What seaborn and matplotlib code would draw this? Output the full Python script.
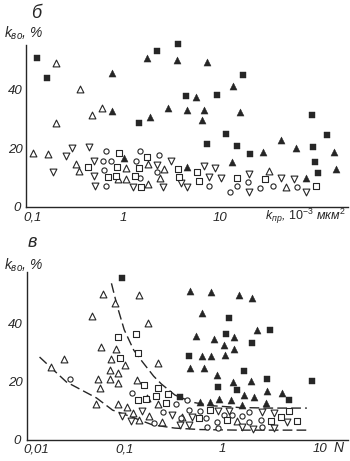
import matplotlib
matplotlib.use('Agg')
import matplotlib.pyplot as plt
import matplotlib.transforms as mtransforms
import seaborn as sns

# ---------------- data: panel б (top) ----------------
top_sqf_x = [0.13, 0.164, 2.24, 3.69, 17.3, 4.47, 9.3, 7.3, 11.5, 15, 20.4, 89, 127, 95, 102, 1.46, 91]
top_sqf_y = [50.9, 44, 53.2, 55.6, 45, 37.9, 38.2, 21.5, 24.9, 20.8, 18, 31.4, 24.6, 15.4, 11.6, 28.7, 20.5]

top_trf_x = [0.77, 1.77, 3.6, 7.3, 13.6, 5.66, 0.77, 1.9, 2.9, 4.57, 6.8, 6.5, 16, 27.7, 42.5, 61, 150, 157, 13.3, 4.57, 77, 1.02]
top_trf_y = [45.7, 50.8, 50.2, 49.5, 41.3, 37.5, 32.8, 30.7, 33.8, 33, 33, 29.7, 32.4, 18.8, 22.9, 20.1, 18.8, 13, 15.4, 13.7, 9.9, 16.7]

top_tro_x = [0.204, 0.36, 0.61, 0.48, 0.204, 0.118, 0.169, 0.328, 0.35, 1.07, 0.89, 1.07, 1.81, 2.64, 2.4, 1.81, 32, 48]
top_tro_y = [49.1, 40.3, 33.8, 31.4, 28.7, 18.4, 18.1, 14.7, 12.3, 13.3, 9.6, 9.6, 14.7, 13, 9.9, 7.8, 12.3, 6.8]

top_trd_x = [0.19, 0.258, 0.30, 0.45, 0.50, 0.50, 0.51, 1.27, 2.58, 3.1, 2.24, 3.96, 4.57, 6.8, 8.9, 7.7, 10.2, 19.9, 19.9, 42.5, 57.7, 77]
top_trd_y = [11.9, 17.4, 20.1, 20.5, 15.7, 10.6, 7.2, 6.8, 6.8, 15.7, 14.3, 8.2, 6.8, 14, 13.3, 10.2, 9.9, 11.3, 5.1, 9.9, 9.6, 5.1]

top_cir_x = [0.67, 0.62, 0.75, 0.64, 0.67, 1.5, 1.36, 1.5, 2.35, 2.24, 7.7, 12.7, 15, 19.5, 25.8, 35, 62]
top_cir_y = [19.1, 15.7, 15.7, 12.6, 7.2, 19.1, 15.7, 9.9, 17.7, 11.9, 7.2, 5.1, 7.2, 8.5, 6.5, 7.2, 6.8]

top_sqo_x = [0.91, 0.44, 0.87, 0.70, 0.85, 1.33, 1.46, 1.77, 1.53, 3.7, 3.8, 5.8, 6.1, 15, 29, 98]
top_sqo_y = [18.4, 13.7, 13.7, 10.2, 10.6, 10.6, 13.3, 17.1, 6.8, 13, 10.2, 11.9, 8.9, 9.9, 9.6, 7.2]

# ---------------- data: panel в (bottom) ----------------
bot_sqf_x = [0.096, 1.19, 1.11, 3.13, 2.05, 0.465, 0.92, 1.7, 2.9, 8.3, 1.44, 4.8, 0.37]
bot_sqf_y = [55.9, 42, 36.6, 37.9, 33.4, 29, 18.3, 23.8, 21, 20.3, 17.2, 13.8, 14.8]

bot_trf_x = [0.476, 0.78, 1.5, 2.05, 0.62, 2.3, 0.54, 0.82, 1.34, 1.06, 1.34, 0.63, 0.78, 1.08, 0.466,
             0.66, 0.88, 1.31, 2.0, 2.9, 4.1, 1.7, 2.15, 0.94, 1.25, 1.62, 2.85, 0.6, 0.76]
bot_trf_y = [51.4, 51, 50, 49, 43.8, 37.9, 35.9, 34.8, 35.5, 32.8, 31.4, 29, 29, 29.3, 24.8,
             24.8, 22.4, 20, 20.3, 16.9, 16.2, 15.5, 14.8, 14.1, 13.8, 12.1, 12.8, 13.1, 13.1]

bot_tro_x = [0.06, 0.143, 0.081, 0.047, 0.177, 0.058, 0.083, 0.024, 0.018, 0.074, 0.103, 0.071, 0.087, 0.054, 0.071,
             0.086, 0.057, 0.134, 0.052, 0.086, 0.108, 0.122, 0.143, 0.22, 0.18, 0.245, 0.22, 0.17, 0.39, 1.44]
bot_tro_y = [50.3, 50, 47.2, 42.8, 40.3, 32.1, 31.4, 27.9, 25.2, 27.9, 25.9, 24.1, 23.1, 21, 21,
             19.7, 17.9, 20.7, 12.4, 12.4, 11.4, 9.3, 6.9, 26.6, 8.3, 6.2, 12.4, 14.5, 7.9, 6.6]

bot_trd_x = [0.096, 0.118, 0.153, 0.31, 0.37, 0.465, 0.49, 0.92, 1.17, 1.62, 2.1, 2.6, 3.4, 3.4, 4.6]
bot_trd_y = [8.3, 6.6, 10, 8.6, 5.2, 5.2, 7.9, 10, 10, 4.5, 3.8, 9.7, 9.3, 4.1, 6.2]

bot_cir_x = [0.028, 0.12, 0.25, 0.2, 0.335, 0.44, 0.465, 0.6, 0.69, 0.71, 0.38, 0.88, 0.92, 1.06, 1.28, 1.62, 1.9, 1.9, 2.5, 2.6]
bot_cir_y = [21, 16.2, 9.7, 5.9, 12.4, 13.8, 10.3, 10, 7.6, 4.5, 7.6, 6.2, 4.1, 8.6, 8.6, 8.3, 9.7, 6.2, 6.9, 4.5]

bot_sqo_x = [0.087, 0.133, 0.091, 0.137, 0.16, 0.137, 0.168, 0.21, 0.224, 0.28, 0.27, 0.75, 0.58, 1.14, 3.2, 4.0, 4.9, 5.9]
bot_sqo_y = [35.5, 36.6, 28.3, 30, 19, 13.8, 14.1, 15.2, 17.9, 15.9, 12.8, 10.3, 7.6, 6.9, 6.6, 7.9, 10, 6.6]

# dashed boundary curves (panel в)
up_curve_x = [0.074, 0.085, 0.1, 0.125, 0.153, 0.2, 0.24, 0.33, 0.5, 0.8, 1.5, 3, 7.4]
up_curve_y = [54, 46, 38, 31, 27, 22, 19.3, 15.5, 13, 11.8, 11.2, 11, 11]
lo_curve_x = [0.0136, 0.0256, 0.052, 0.076, 0.12, 0.195, 0.33, 0.6, 1.5, 7.4]
lo_curve_y = [28.6, 20, 14.5, 10.3, 7.9, 5.2, 4.1, 3.6, 3.4, 3.4]

top_xticks = [0.1, 1, 10, 100]
top_xticklabels = ['0,1', '1', '10', '']
bot_xticks = [0.01, 0.1, 1, 10]
bot_xticklabels = ['0,01', '0,1', '1', '10']
yticks = [0, 10, 20, 30, 40, 50]
yticklabels = ['0', '', '20', '', '40', '']

# ---------------- style ----------------
sns.set_theme(style='white')
plt.rcParams['font.family'] = ['Liberation Sans', 'DejaVu Sans']
plt.rcParams['mathtext.fontset'] = 'custom'
plt.rcParams['mathtext.rm'] = 'Liberation Sans'
plt.rcParams['mathtext.it'] = 'Liberation Sans:italic'
INK = '#262626'

W, H = 350, 461
fig = plt.figure(figsize=(3.5, 4.61), dpi=100)
fig.patch.set_facecolor('white')


def fx(px):
    return px / W


def fy(py):
    return 1 - py / H


ax1 = fig.add_axes([fx(26), fy(207), fx(348) - fx(26), fy(45) - fy(207)])
ax2 = fig.add_axes([fx(26.5), fy(440), fx(348) - fx(26.5), fy(272) - fy(440)])


def pts(ax, x, y, marker, filled, size):
    if filled:
        sns.scatterplot(x=x, y=y, ax=ax, marker=marker, s=size, color=INK,
                        edgecolor=INK, linewidth=0.3, clip_on=False, zorder=3)
    else:
        sns.scatterplot(x=x, y=y, ax=ax, marker=marker, s=size, color='white',
                        edgecolor=INK, linewidth=0.8, clip_on=False, zorder=3)


for ax, data in [
    (ax1, [(top_sqf_x, top_sqf_y, 's', True, 17), (top_trf_x, top_trf_y, '^', True, 26),
           (top_tro_x, top_tro_y, '^', False, 24), (top_trd_x, top_trd_y, 'v', False, 24),
           (top_cir_x, top_cir_y, 'o', False, 14), (top_sqo_x, top_sqo_y, 's', False, 18)]),
    (ax2, [(bot_sqf_x, bot_sqf_y, 's', True, 17), (bot_trf_x, bot_trf_y, '^', True, 26),
           (bot_tro_x, bot_tro_y, '^', False, 24), (bot_trd_x, bot_trd_y, 'v', False, 24),
           (bot_cir_x, bot_cir_y, 'o', False, 14), (bot_sqo_x, bot_sqo_y, 's', False, 18)]),
]:
    for x, y, m, f, s in data:
        pts(ax, x, y, m, f, s)

for cx, cy in [(up_curve_x, up_curve_y), (lo_curve_x, lo_curve_y)]:
    sns.lineplot(x=cx, y=cy, ax=ax2, color=INK, lw=1.0, sort=False,
                 estimator=None, zorder=2)
    ax2.lines[-1].set_dashes([7, 3])

for ax, xt, xtl, xlim, ylim, pad in [
    (ax1, top_xticks, top_xticklabels, (0.1, 209), (0, 55.3), 3.5),
    (ax2, bot_xticks, bot_xticklabels, (0.01, 19.5), (0, 57.9), 2.5),
]:
    ax.set_xscale('log')
    ax.set_xlim(*xlim)
    ax.set_ylim(*ylim)
    ax.set_facecolor('white')
    sns.despine(ax=ax)
    for sp in ('left', 'bottom'):
        ax.spines[sp].set_color(INK)
        ax.spines[sp].set_linewidth(1.0)
    ax.set_xticks(xt)
    ax.set_xticklabels(xtl)
    ax.set_yticks(yticks)
    ax.set_yticklabels(yticklabels)
    ax.minorticks_off()
    ax.tick_params(axis='both', which='major', direction='in', length=4, width=1,
                   color=INK, labelcolor=INK, labelsize=9.5)
    ax.tick_params(axis='x', pad=pad)
    ax.tick_params(axis='y', pad=2.5)
    for lab in ax.get_xticklabels() + ax.get_yticklabels():
        lab.set_style('italic')
    # first x label starts near the axis origin, right of the "0" label
    lab0 = ax.get_xticklabels()[0]
    lab0.set_horizontalalignment('left')
    lab0.set_transform(lab0.get_transform() +
                       mtransforms.ScaledTranslation(-3 / 100, 0, fig.dpi_scale_trans))
    ylab0 = ax.get_yticklabels()[0]
    ylab0.set_transform(ylab0.get_transform() +
                        mtransforms.ScaledTranslation(-2 / 100, 1 / 100, fig.dpi_scale_trans))
    ax.set_xlabel('')
    ax.set_ylabel('')

# texts
fig.text(fx(36), fy(14), 'б', fontsize=13, style='italic', color=INK, ha='center', va='center')
fig.text(fx(32), fy(242), 'в', fontsize=13, style='italic', color=INK, ha='center', va='center')
fig.text(fx(4), fy(33), r'$k_{во}$, %', fontsize=10, style='italic', color=INK, ha='left', va='center')
fig.text(fx(4), fy(265), r'$k_{во}$, %', fontsize=10, style='italic', color=INK, ha='left', va='center')
fig.text(fx(346), fy(216), r'$k_{пр}$, $10^{-3}$ мкм$^{2}$', fontsize=9, style='italic',
         color=INK, ha='right', va='center')
fig.text(fx(339), fy(448), 'N', fontsize=10, style='italic', color=INK, ha='center', va='center')

fig.savefig('out.png', dpi=100, facecolor='white')
